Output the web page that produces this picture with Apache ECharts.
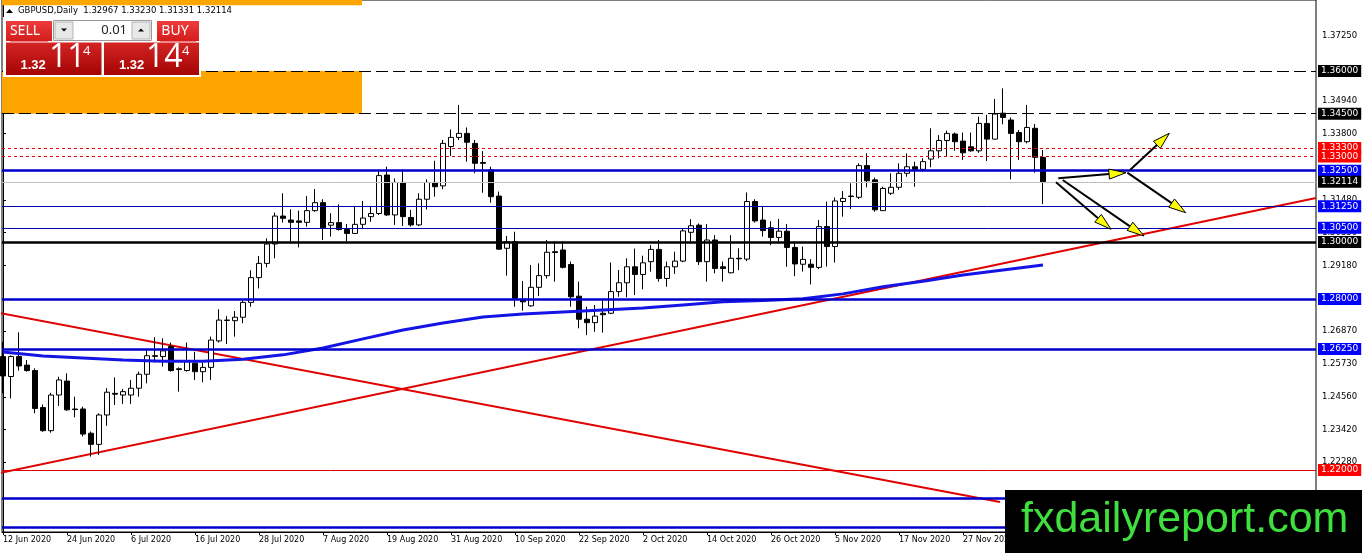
<!DOCTYPE html>
<html>
<head>
<meta charset="utf-8">
<title>GBPUSD,Daily</title>
<script src="https://cdn.jsdelivr.net/npm/echarts@6/dist/echarts.min.js"></script>
<style>
html, body { margin: 0; padding: 0; background: #fff; }
#chart { width: 1362px; height: 553px; }
</style>
</head>
<body>
<div id="chart"></div>
<script>
'use strict';

// daily bars 12 Jun 2020 .. 11 Dec 2020 (index = bar number)
var opens = [
  1.2598, 1.2528, 1.2598, 1.2568, 1.2549, 1.2419, 1.2338, 1.2463, 1.2512, 1.2414,
  1.2414, 1.2329, 1.2290, 1.2393, 1.2469, 1.2463, 1.2463, 1.2487, 1.2536, 1.2601,
  1.2598, 1.2633, 1.2555, 1.2549, 1.2575, 1.2545, 1.2560, 1.2653, 1.2726, 1.2724,
  1.2736, 1.2788, 1.2875, 1.2925, 1.2993, 1.3091, 1.3077, 1.3074, 1.3069, 1.3110,
  1.3138, 1.3059, 1.3068, 1.3044, 1.3030, 1.3062, 1.3089, 1.3100, 1.3235, 1.3095,
  1.3209, 1.3086, 1.3060, 1.3150, 1.3209, 1.3197, 1.3335, 1.3367, 1.3381, 1.3346,
  1.3279, 1.3253, 1.3161, 1.2978, 1.3001, 1.2799, 1.2776, 1.2841, 1.2882, 1.2966,
  1.2972, 1.2921, 1.2810, 1.2729, 1.2717, 1.2750, 1.2750, 1.2826, 1.2857, 1.2913,
  1.2886, 1.2931, 1.2974, 1.2872, 1.2913, 1.2933, 1.3034, 1.3059, 1.2931, 1.3007,
  1.2913, 1.2892, 1.2943, 1.2940, 1.3142, 1.3077, 1.3050, 1.3016, 1.3038, 1.2981,
  1.2922, 1.2922, 1.2911, 1.3054, 1.2984, 1.3142, 1.3161, 1.3157, 1.3268, 1.3218,
  1.3110, 1.3171, 1.3192, 1.3241, 1.3264, 1.3255, 1.3291, 1.3320, 1.3356, 1.3379,
  1.3354, 1.3334, 1.3320, 1.3416, 1.3361, 1.3452, 1.3428, 1.3384, 1.3352, 1.3399,
  1.32967
];
var highs = [
  1.2650, 1.2602, 1.2683, 1.2586, 1.2557, 1.2430, 1.2471, 1.2527, 1.2539, 1.2457,
  1.2422, 1.2335, 1.2399, 1.2487, 1.2525, 1.2484, 1.2516, 1.2545, 1.2625, 1.2666,
  1.2662, 1.2647, 1.2560, 1.2647, 1.2615, 1.2577, 1.2668, 1.2764, 1.2740, 1.2758,
  1.2796, 1.2901, 1.2951, 1.3013, 1.3103, 1.3171, 1.3115, 1.3110, 1.3161, 1.3186,
  1.3150, 1.3101, 1.3132, 1.3063, 1.3124, 1.3144, 1.3124, 1.3253, 1.3264, 1.3223,
  1.3250, 1.3112, 1.3171, 1.3220, 1.3285, 1.3358, 1.3395, 1.3481, 1.3402, 1.3358,
  1.3319, 1.3264, 1.3177, 1.3021, 1.3036, 1.2863, 1.2919, 1.2925, 1.3007, 1.3001,
  1.3001, 1.2931, 1.2861, 1.2773, 1.2779, 1.2796, 1.2928, 1.2902, 1.2943, 1.2977,
  1.2952, 1.2989, 1.3007, 1.2931, 1.2966, 1.3046, 1.3080, 1.3065, 1.3063, 1.3024,
  1.2931, 1.3024, 1.2978, 1.3174, 1.3150, 1.3124, 1.3073, 1.3081, 1.3063, 1.3001,
  1.2984, 1.2940, 1.3077, 1.3142, 1.3156, 1.3179, 1.3206, 1.3276, 1.3311, 1.3226,
  1.3194, 1.3241, 1.3276, 1.3311, 1.3282, 1.3294, 1.3399, 1.3375, 1.3391, 1.3384,
  1.3384, 1.3384, 1.3440, 1.3446, 1.3502, 1.3539, 1.3437, 1.3393, 1.3481, 1.3414,
  1.33230
];
var lows = [
  1.2469, 1.2451, 1.2549, 1.2545, 1.2399, 1.2334, 1.2331, 1.2425, 1.2408, 1.2385,
  1.2318, 1.2247, 1.2253, 1.2355, 1.2428, 1.2432, 1.2432, 1.2457, 1.2504, 1.2577,
  1.2563, 1.2545, 1.2475, 1.2545, 1.2516, 1.2508, 1.2516, 1.2647, 1.2642, 1.2668,
  1.2715, 1.2773, 1.2837, 1.2911, 1.2943, 1.3068, 1.3001, 1.2981, 1.3054, 1.3106,
  1.3007, 1.3019, 1.3040, 1.3001, 1.3028, 1.3048, 1.3071, 1.3095, 1.3091, 1.3060,
  1.3056, 1.3054, 1.3056, 1.3114, 1.3159, 1.3185, 1.3302, 1.3358, 1.3282, 1.3241,
  1.3173, 1.3138, 1.2974, 1.2882, 1.2773, 1.2759, 1.2773, 1.2810, 1.2872, 1.2861,
  1.2907, 1.2773, 1.2697, 1.2673, 1.2685, 1.2682, 1.2747, 1.2808, 1.2806, 1.2814,
  1.2834, 1.2896, 1.2861, 1.2843, 1.2888, 1.2929, 1.3001, 1.2919, 1.2861, 1.2890,
  1.2861, 1.2890, 1.2902, 1.2933, 1.3068, 1.3019, 1.2989, 1.3001, 1.2913, 1.2880,
  1.2896, 1.2851, 1.2905, 1.2914, 1.2928, 1.3089, 1.3116, 1.3151, 1.3192, 1.3106,
  1.3109, 1.3165, 1.3183, 1.3229, 1.3194, 1.3247, 1.3262, 1.3294, 1.3302, 1.3320,
  1.3288, 1.3317, 1.3313, 1.3284, 1.3360, 1.3413, 1.3220, 1.3288, 1.3346, 1.3243,
  1.31331
];
var closes = [
  1.2530, 1.2598, 1.2565, 1.2549, 1.2416, 1.2338, 1.2463, 1.2516, 1.2411, 1.2412,
  1.2326, 1.2290, 1.2393, 1.2473, 1.2466, 1.2475, 1.2487, 1.2536, 1.2601, 1.2599,
  1.2618, 1.2549, 1.2553, 1.2581, 1.2545, 1.2560, 1.2656, 1.2726, 1.2725, 1.2736,
  1.2788, 1.2875, 1.2925, 1.2993, 1.3091, 1.3083, 1.3069, 1.3069, 1.3110, 1.3138,
  1.3050, 1.3068, 1.3044, 1.3030, 1.3062, 1.3084, 1.3100, 1.3233, 1.3095, 1.3209,
  1.3089, 1.3060, 1.3150, 1.3209, 1.3194, 1.3346, 1.3367, 1.3381, 1.3350, 1.3276,
  1.3276, 1.3159, 1.2975, 1.3001, 1.2802, 1.2790, 1.2841, 1.2882, 1.2964, 1.2963,
  1.2911, 1.2808, 1.2729, 1.2717, 1.2740, 1.2745, 1.2826, 1.2857, 1.2913, 1.2886,
  1.2927, 1.2974, 1.2872, 1.2913, 1.2933, 1.3039, 1.3057, 1.2931, 1.3007, 1.2907,
  1.2907, 1.2943, 1.2941, 1.3142, 1.3074, 1.3040, 1.3016, 1.3038, 1.2981, 1.2923,
  1.2939, 1.2911, 1.3054, 1.2984, 1.3144, 1.3153, 1.3160, 1.3268, 1.3215, 1.3113,
  1.3188, 1.3192, 1.3241, 1.3264, 1.3255, 1.3282, 1.3320, 1.3356, 1.3381, 1.3352,
  1.3313, 1.3320, 1.3416, 1.3361, 1.3449, 1.3437, 1.3381, 1.3352, 1.3402, 1.3297,
  1.32114
];

// time scale labels, one every 8 bars
var labelBars = [0, 8, 16, 24, 32, 40, 48, 56, 64, 72, 80, 88, 96, 104, 112, 120, 128];
var dateLabels = ['12 Jun 2020', '24 Jun 2020', '6 Jul 2020', '16 Jul 2020', '28 Jul 2020',
  '7 Aug 2020', '19 Aug 2020', '31 Aug 2020', '10 Sep 2020', '22 Sep 2020', '2 Oct 2020',
  '14 Oct 2020', '26 Oct 2020', '5 Nov 2020', '17 Nov 2020', '27 Nov 2020', '9 Dec 2020'];

// price scale labels
var priceTicks = [1.3725, 1.3494, 1.3380, 1.3148, 1.3033, 1.2918, 1.2687, 1.2573, 1.2456, 1.2342, 1.2228];

// moving average, read every 5 bars
var maBars = [0, 5, 10, 15, 20, 25, 30, 35, 40, 45, 50, 55, 60, 65, 70, 75, 80, 85, 90, 95, 100, 105, 110, 115, 120, 125, 130];
var maValues = [1.2614, 1.2600, 1.2593, 1.2586, 1.2582, 1.2582, 1.2589, 1.2604, 1.2628, 1.2660,
  1.2691, 1.2716, 1.2737, 1.2747, 1.2754, 1.2761, 1.2768, 1.2779, 1.2790, 1.2795,
  1.2801, 1.2818, 1.2843, 1.2862, 1.2884, 1.2902, 1.2919];

// horizontal levels
var dashedLevels = [1.36, 1.345];
var redDotLevels = [1.333, 1.33];
var blueLevels = [1.325, 1.28, 1.2625, 1.21, 1.20];
var thinBlueLevels = [1.3125, 1.305];
var blackLevels = [1.30];
var redLevels = [1.22];
var lastPrice = 1.32114;

// drawings as [bar, price, bar, price]
var trendLines = [
  [-0.375, 1.21895, 164.125, 1.31544],
  [-0.375, 1.27509, 124.625, 1.20877]
];
var arrows = [
  [131.91, 1.32235, 140.375, 1.32432],
  [140.875, 1.32526, 145.79, 1.33814],
  [140.54, 1.32432, 147.84, 1.31028],
  [131.625, 1.32095, 138.5, 1.30446],
  [132.46, 1.32175, 142.625, 1.30211]
];
var zones = [
  [-0.125, 1.345, 44.875, 1.36],
  [-0.125, 1.3831, 44.875, 1.3850]
];

var yMin = 1.198246, yMax = 1.384912;
var font = '"DejaVu Sans", sans-serif';

var candles = [];
for (var i = 0; i < opens.length; i++) {
  candles.push([i, opens[i], closes[i], lows[i], highs[i]]);
}

function level(v, color, width, type, bg) {
  return {
    yAxis: v,
    lineStyle: { color: color, width: width, type: type },
    label: { backgroundColor: bg }
  };
}
var levels = [];
dashedLevels.forEach(function (v) { levels.push(level(v, '#000', 1, [12, 5], '#000')); });
redDotLevels.forEach(function (v) { levels.push(level(v, '#e00000', 1, [3, 3], '#ff0000')); });
blueLevels.forEach(function (v) { levels.push(level(v, '#0000cc', 2.5, 'solid', '#0000ff')); });
thinBlueLevels.forEach(function (v) { levels.push(level(v, '#0000aa', 1, 'solid', '#0000ff')); });
blackLevels.forEach(function (v) { levels.push(level(v, '#000', 2.5, 'solid', '#000')); });
redLevels.forEach(function (v) { levels.push(level(v, '#e00000', 1, 'solid', '#ff0000')); });
levels.push(level(lastPrice, '#c0c0c0', 1, 'solid', '#000'));

function renderArrow(params, api) {
  var a = api.coord([api.value(0), api.value(1)]);
  var b = api.coord([api.value(2), api.value(3)]);
  var dx = b[0] - a[0], dy = b[1] - a[1];
  var len = Math.sqrt(dx * dx + dy * dy);
  var ux = dx / len, uy = dy / len;
  var hl = 17, hw = 5;
  var bx = b[0] - ux * hl, by = b[1] - uy * hl;
  return {
    type: 'group',
    children: [{
      type: 'line',
      shape: { x1: a[0], y1: a[1], x2: bx, y2: by },
      style: { stroke: '#000', lineWidth: 2 }
    }, {
      type: 'polygon',
      shape: { points: [[b[0], b[1]], [bx - uy * hw, by + ux * hw], [bx + uy * hw, by - ux * hw]] },
      style: { fill: '#ffff00', stroke: '#000', lineWidth: 1 }
    }]
  };
}

function redGrad(top, bottom) {
  return new echarts.graphic.LinearGradient(0, 0, 0, 1, [
    { offset: 0, color: top }, { offset: 1, color: bottom }
  ]);
}

var panel = [
  // header
  { type: 'polygon', shape: { points: [[6, 13], [13, 13], [9.5, 9]] }, style: { fill: '#000' } },
  { type: 'text', style: { text: 'GBPUSD,Daily  1.32967 1.33230 1.31331 1.32114', x: 18, y: 11,
    font: '8.5px ' + font, fill: '#000', verticalAlign: 'middle' } },
  // one click trading
  { type: 'rect', shape: { x: 3, y: 17, width: 198, height: 60 }, style: { fill: '#fff' } },
  { type: 'rect', shape: { x: 6, y: 21, width: 46, height: 20 }, style: { fill: redGrad('#ee3c3c', '#d41c1c') } },
  { type: 'text', style: { text: 'SELL', x: 25, y: 31, font: '14px "Noto Sans"', fill: '#fff', align: 'center', verticalAlign: 'middle' } },
  { type: 'rect', shape: { x: 157, y: 21, width: 42, height: 20 }, style: { fill: redGrad('#ee3c3c', '#d41c1c') } },
  { type: 'text', style: { text: 'BUY', x: 175, y: 31, font: '14px "Noto Sans"', fill: '#fff', align: 'center', verticalAlign: 'middle' } },
  { type: 'rect', shape: { x: 53.5, y: 20.5, width: 98, height: 20 }, style: { fill: '#fff', stroke: '#9a9a9a' } },
  { type: 'rect', shape: { x: 55, y: 22, width: 18, height: 17 }, style: { fill: '#e8e8e8', stroke: '#b4b4b4' } },
  { type: 'polygon', shape: { points: [[61, 28.5], [67, 28.5], [64, 31.5]] }, style: { fill: '#000' } },
  { type: 'rect', shape: { x: 132, y: 22, width: 18, height: 17 }, style: { fill: '#e8e8e8', stroke: '#b4b4b4' } },
  { type: 'polygon', shape: { points: [[138, 31.5], [144, 31.5], [141, 28.5]] }, style: { fill: '#000' } },
  { type: 'text', style: { text: '0.01', x: 127, y: 30.5, font: '13px "Noto Sans"', fill: '#222', align: 'right', verticalAlign: 'middle' } },
  { type: 'rect', shape: { x: 6, y: 42.5, width: 95.5, height: 32.5 }, style: { fill: redGrad('#d42424', '#a40404') } },
  { type: 'rect', shape: { x: 104, y: 42.5, width: 95, height: 32.5 }, style: { fill: redGrad('#d42424', '#a40404') } },
  { type: 'line', shape: { x1: 10, y1: 41.5, x2: 48, y2: 41.5 }, style: { stroke: '#f08080', lineWidth: 1 } },
  { type: 'line', shape: { x1: 160, y1: 41.5, x2: 196, y2: 41.5 }, style: { stroke: '#f08080', lineWidth: 1 } },
  { type: 'text', style: { text: '1.32', x: 20.5, y: 65.5, font: 'bold 13px "Liberation Sans"', fill: '#fff', verticalAlign: 'middle' } },
  { type: 'text', style: { text: '11', x: 49, y: 58, font: '32px "Open Sans"', fill: '#fff', verticalAlign: 'middle' } },
  { type: 'text', style: { text: '4', x: 83, y: 51.5, font: '13px "Open Sans"', fill: '#fff', verticalAlign: 'middle' } },
  { type: 'text', style: { text: '1.32', x: 119, y: 65.5, font: 'bold 13px "Liberation Sans"', fill: '#fff', verticalAlign: 'middle' } },
  { type: 'text', style: { text: '14', x: 146, y: 58, font: '32px "Open Sans"', fill: '#fff', verticalAlign: 'middle' } },
  { type: 'text', style: { text: '4', x: 182, y: 51.5, font: '13px "Open Sans"', fill: '#fff', verticalAlign: 'middle' } },
  // watermark
  { type: 'rect', shape: { x: 1005, y: 490, width: 357, height: 63 }, style: { fill: '#000' } },
  { type: 'text', style: { text: 'fxdailyreport.com', x: 1021, y: 520, font: '43px "Liberation Sans"', fill: '#3fdf3f', verticalAlign: 'middle' } }
];
panel.forEach(function (el) { el.z = 100; });

var myChart = echarts.init(document.getElementById('chart'));
var option = {
  animation: false,
  backgroundColor: '#fff',
  grid: { left: 2, right: 46, top: 0, bottom: 21, show: true, borderColor: '#000', borderWidth: 1 },
  xAxis: {
    type: 'value',
    min: -0.125,
    max: 164.125,
    axisLine: { lineStyle: { color: '#000' } },
    axisTick: { customValues: labelBars, length: 3, lineStyle: { color: '#000' } },
    axisLabel: {
      customValues: labelBars,
      formatter: function (v) { return dateLabels[labelBars.indexOf(v)]; },
      align: 'left',
      margin: 4,
      fontSize: 8,
      fontFamily: font,
      color: '#000'
    },
    splitLine: { show: false }
  },
  yAxis: {
    type: 'value',
    position: 'right',
    min: yMin,
    max: yMax,
    axisLine: { show: true, lineStyle: { color: '#000' } },
    axisTick: { show: true, customValues: priceTicks, length: 3, lineStyle: { color: '#000' } },
    axisLabel: {
      customValues: priceTicks,
      formatter: function (v) { return v.toFixed(5); },
      margin: 6,
      fontSize: 8.5,
      fontFamily: font,
      color: '#000'
    },
    splitLine: { show: false }
  },
  series: [{
    type: 'line',
    data: [[trendLines[0][0], trendLines[0][1]], [trendLines[0][2], trendLines[0][3]]],
    showSymbol: false,
    silent: true,
    lineStyle: { color: '#e00000', width: 2 },
    z: 2
  }, {
    type: 'line',
    data: [[trendLines[1][0], trendLines[1][1]], [trendLines[1][2], trendLines[1][3]]],
    showSymbol: false,
    silent: true,
    lineStyle: { color: '#e00000', width: 2 },
    z: 2
  }, {
    type: 'candlestick',
    data: candles,
    barWidth: 5,
    silent: true,
    itemStyle: {
      color: '#fff', color0: '#000',
      borderColor: '#000', borderColor0: '#000', borderColorDoji: '#000',
      borderWidth: 1
    },
    z: 3
  }, {
    type: 'line',
    data: maBars.map(function (b, k) { return [b, maValues[k]]; }),
    showSymbol: false,
    silent: true,
    lineStyle: { color: '#1414e6', width: 3 },
    z: 4,
    markArea: {
      silent: true,
      itemStyle: { color: '#ffa500' },
      data: zones.map(function (r) {
        return [{ xAxis: r[0], yAxis: r[1] }, { xAxis: r[2], yAxis: r[3] }];
      })
    },
    markLine: {
      silent: true,
      symbol: 'none',
      precision: 5,
      animation: false,
      label: {
        position: 'end',
        distance: 2,
        formatter: function (p) { return Number(p.value).toFixed(5); },
        color: '#fff',
        fontSize: 9,
        fontFamily: font,
        padding: [1, 3, 1, 3],
        lineHeight: 10
      },
      emphasis: { disabled: true },
      data: levels
    }
  }, {
    type: 'custom',
    data: arrows,
    renderItem: renderArrow,
    encode: { x: [0, 2], y: [1, 3] },
    silent: true,
    z: 5
  }],
  graphic: panel
};
myChart.setOption(option);
</script>
</body>
</html>
